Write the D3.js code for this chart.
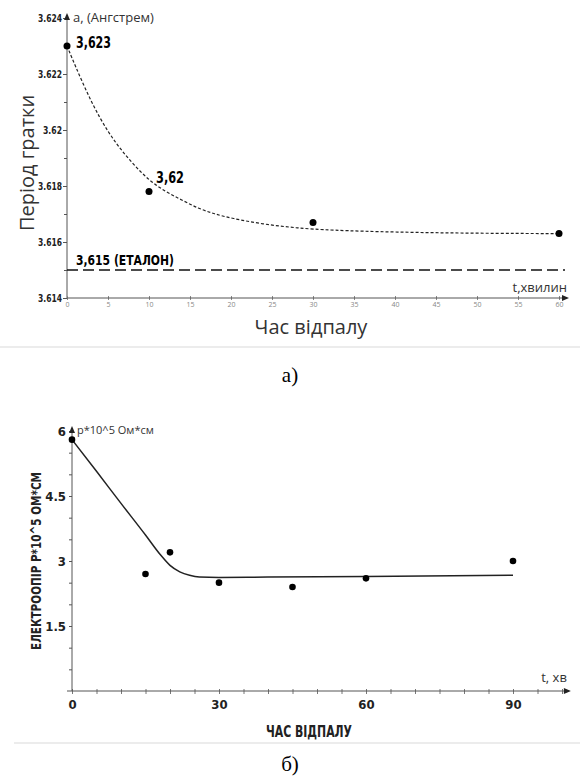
<!DOCTYPE html>
<html>
<head>
<meta charset="utf-8">
<script src="https://cdn.jsdelivr.net/npm/d3@7"></script>
<style>
  body { margin: 0; background: #fff; }
  svg { display: block; }
  .cond { font-family: "Liberation Sans Narrow", "DejaVu Sans Condensed", sans-serif; font-weight: bold; }
  .reg { font-family: "Open Sans", "Noto Sans", sans-serif; }
</style>
</head>
<body>
<div id="viz"></div>
<script>
const width = 580, height = 778;

// chart a) lattice period vs annealing time
const latticeTime = [0, 10, 30, 60];
const latticeValue = [3.623, 3.6178, 3.6167, 3.6163];
const latticeFitTime = [0, 2, 4, 6, 8, 10, 12, 14, 16, 18, 20, 24, 28, 32, 40, 50, 60];
const latticeFitValue = [3.6230, 3.6216, 3.6204, 3.6195, 3.6188, 3.6182, 3.6178, 3.6175, 3.6172, 3.6170, 3.61685, 3.61663, 3.6165, 3.61642, 3.61635, 3.61631, 3.6163];
const latticeRef = 3.615;
const latticeTicksY = [3.614, 3.616, 3.618, 3.62, 3.622, 3.624];
const latticeTickLabelsY = ["3.614", "3.616", "3.618", "3.62", "3.622", "3.624"];
const latticeTicksX = [0, 5, 10, 15, 20, 25, 30, 35, 40, 45, 50, 55, 60];
const latticeNotes = ["3,623", "3,62", "3,615 (ЕТАЛОН)"];

// chart b) resistivity vs annealing time
const resistTime = [0, 15, 20, 30, 45, 60, 90];
const resistValue = [5.8, 2.7, 3.2, 2.5, 2.4, 2.6, 3.0];
const resistFitTime = [0, 5, 10, 15, 18, 20, 22, 24, 26, 30, 40, 60, 90];
const resistFitValue = [5.8, 5.07, 4.33, 3.6, 3.15, 2.9, 2.75, 2.67, 2.63, 2.62, 2.63, 2.64, 2.67];
const resistTicksY = [1.5, 3, 4.5, 6];
const resistTicksX = [0, 30, 60, 90];

const svg = d3.select("#viz").append("svg")
  .attr("width", width)
  .attr("height", height);

const axisColor = "#555";

function arrowUp(x, y) {
  svg.append("path")
    .attr("d", `M${x},${y} l-3,7 l6,0 z`)
    .attr("fill", "#222");
}
function arrowRight(x, y) {
  svg.append("path")
    .attr("d", `M${x},${y} l-7,-3 l0,6 z`)
    .attr("fill", "#222");
}

// ---------- chart a ----------
const xa = d3.scaleLinear().domain([0, 60]).range([67, 559]);
const ya = d3.scaleLinear().domain([3.614, 3.624]).range([298, 18]);

// y axis minor + major
svg.append("g")
  .attr("transform", `translate(${xa(0)},0)`)
  .call(d3.axisLeft(ya).tickValues(d3.range(3.614, 3.6245, 0.001)).tickSize(3).tickFormat(""))
  .call(g => g.select(".domain").remove())
  .selectAll("line").attr("stroke", axisColor);

const gya = svg.append("g")
  .attr("transform", `translate(${xa(0)},0)`)
  .call(d3.axisLeft(ya).tickValues(latticeTicksY).tickSize(4)
    .tickFormat((d, i) => latticeTickLabelsY[i]));
gya.select(".domain").remove();
gya.selectAll("line").attr("stroke", axisColor);
gya.selectAll("text").attr("class", "cond").attr("font-size", 10).attr("fill", "#222").attr("dx", 2)
  .attr("textLength", d => d === 3.62 ? 19 : 24).attr("lengthAdjust", "spacingAndGlyphs");

svg.append("line")
  .attr("x1", xa(0)).attr("x2", xa(0))
  .attr("y1", ya(3.614)).attr("y2", ya(3.624) - 3)
  .attr("stroke", axisColor);
arrowUp(xa(0), ya(3.624) - 5);

// x axis
const gxa = svg.append("g")
  .attr("transform", `translate(0,${ya(3.614)})`)
  .call(d3.axisBottom(xa).tickValues(latticeTicksX).tickSize(2));
gxa.select(".domain").remove();
gxa.selectAll("line").attr("stroke", "#888").attr("y1", -2);
gxa.selectAll("text").attr("class", "reg").attr("font-size", 7).attr("fill", "#888").attr("dy", "0.6em");

svg.append("line")
  .attr("x1", xa(0)).attr("x2", xa(60) + 8)
  .attr("y1", ya(3.614)).attr("y2", ya(3.614))
  .attr("stroke", axisColor);
arrowRight(xa(60) + 10, ya(3.614));

// reference line
svg.append("line")
  .attr("x1", xa(0)).attr("x2", xa(60) + 6)
  .attr("y1", ya(latticeRef)).attr("y2", ya(latticeRef))
  .attr("stroke", "#111").attr("stroke-width", 1.6)
  .attr("stroke-dasharray", "11,5");

// fitted curve
const fitA = latticeFitTime.map((t, i) => [t, latticeFitValue[i]]);
svg.append("path")
  .datum(fitA)
  .attr("d", d3.line().x(d => xa(d[0])).y(d => ya(d[1])).curve(d3.curveBasis))
  .attr("fill", "none")
  .attr("stroke", "#222")
  .attr("stroke-width", 1.2)
  .attr("stroke-dasharray", "3,2");

// points
svg.selectAll(".pa")
  .data(latticeTime.map((t, i) => [t, latticeValue[i]]))
  .enter().append("circle")
  .attr("cx", d => xa(d[0])).attr("cy", d => ya(d[1]))
  .attr("r", 3.5).attr("fill", "#000");

// annotations
svg.append("text").attr("class", "cond").attr("font-size", 15)
  .attr("textLength", 35).attr("lengthAdjust", "spacingAndGlyphs")
  .attr("x", xa(0) + 9).attr("y", ya(latticeValue[0]) + 2).text(latticeNotes[0]);
svg.append("text").attr("class", "cond").attr("font-size", 15)
  .attr("textLength", 28).attr("lengthAdjust", "spacingAndGlyphs")
  .attr("x", xa(10) + 7).attr("y", ya(latticeValue[1]) - 9).text(latticeNotes[1]);
svg.append("text").attr("class", "cond").attr("font-size", 14)
  .attr("textLength", 98).attr("lengthAdjust", "spacingAndGlyphs")
  .attr("x", xa(0) + 9).attr("y", ya(latticeRef) - 5).text(latticeNotes[2]);

svg.append("text").attr("class", "reg").attr("font-size", 13).attr("fill", "#333")
  .attr("x", xa(0) + 6).attr("y", ya(3.624) + 4).text("а, (Ангстрем)");
svg.append("text").attr("class", "reg").attr("font-size", 13).attr("fill", "#333")
  .attr("text-anchor", "end")
  .attr("x", xa(60) + 8).attr("y", ya(3.614) - 6).text("t,хвилин");

svg.append("text").attr("class", "reg").attr("font-size", 20).attr("fill", "#333")
  .attr("text-anchor", "middle")
  .attr("transform", `translate(34,${(ya(3.614) + ya(3.624)) / 2 + 5}) rotate(-90)`)
  .text("Період гратки");
svg.append("text").attr("class", "reg").attr("font-size", 20).attr("fill", "#333")
  .attr("text-anchor", "middle")
  .attr("x", 311).attr("y", 334).text("Час відпалу");

svg.append("line").attr("x1", 0).attr("x2", width).attr("y1", 347).attr("y2", 347)
  .attr("stroke", "#ececec").attr("stroke-width", 2);
svg.append("text").attr("font-family", "Liberation Serif, serif").attr("font-size", 21)
  .attr("text-anchor", "middle").attr("x", 290).attr("y", 382).text("а)");

// ---------- chart b ----------
const xb = d3.scaleLinear().domain([0, 90]).range([72, 513]);
const yb = d3.scaleLinear().domain([0, 6]).range([691, 431]);

const gyb = svg.append("g")
  .attr("transform", `translate(${xb(0)},0)`)
  .call(d3.axisLeft(yb).tickValues(d3.range(0.5, 6.01, 0.5)).tickSize(3)
    .tickFormat(d => resistTicksY.includes(d) ? d : ""));
gyb.select(".domain").remove();
gyb.selectAll("line").attr("stroke", axisColor);
gyb.selectAll("text").attr("class", "cond").attr("font-size", 13).attr("fill", "#222");

const gxb = svg.append("g")
  .attr("transform", `translate(0,${yb(0)})`)
  .call(d3.axisBottom(xb).tickValues(d3.range(0, 101, 5)).tickSize(3)
    .tickFormat(d => resistTicksX.includes(d) ? d : ""));
gxb.select(".domain").remove();
gxb.selectAll("line").attr("stroke", "#777").attr("y1", -2);
gxb.selectAll("text").attr("class", "cond").attr("font-size", 13).attr("fill", "#222").attr("dy", "0.9em");

svg.append("line")
  .attr("x1", xb(0)).attr("x2", xb(0))
  .attr("y1", yb(0)).attr("y2", yb(6) - 3)
  .attr("stroke", axisColor);
arrowUp(xb(0), yb(6) - 5);
svg.append("line")
  .attr("x1", xb(0) - 5).attr("x2", xb(101) + 2)
  .attr("y1", yb(0)).attr("y2", yb(0))
  .attr("stroke", axisColor);
arrowRight(xb(101) + 4, yb(0));

const fitB = resistFitTime.map((t, i) => [t, resistFitValue[i]]);
svg.append("path")
  .datum(fitB)
  .attr("d", d3.line().x(d => xb(d[0])).y(d => yb(d[1])).curve(d3.curveMonotoneX))
  .attr("fill", "none")
  .attr("stroke", "#222")
  .attr("stroke-width", 1.5);

svg.selectAll(".pb")
  .data(resistTime.map((t, i) => [t, resistValue[i]]))
  .enter().append("circle")
  .attr("cx", d => xb(d[0])).attr("cy", d => yb(d[1]))
  .attr("r", 3.3).attr("fill", "#000");

svg.append("text").attr("class", "reg").attr("font-size", 11).attr("fill", "#333")
  .attr("x", xb(0) + 5).attr("y", yb(6) + 3).text("р*10^5 Ом*см");
svg.append("text").attr("class", "reg").attr("font-size", 13).attr("fill", "#333")
  .attr("text-anchor", "end")
  .attr("x", xb(101)).attr("y", yb(0) - 9).text("t, хв");

svg.append("text").attr("class", "cond").attr("font-size", 14).attr("fill", "#222")
  .attr("text-anchor", "middle")
  .attr("textLength", 178).attr("lengthAdjust", "spacingAndGlyphs")
  .attr("transform", `translate(41,${(yb(0) + yb(6)) / 2}) rotate(-90)`)
  .text("ЕЛЕКТРООПІР Р*10^5 ОМ*СМ");
svg.append("text").attr("class", "cond").attr("font-size", 15).attr("fill", "#222")
  .attr("text-anchor", "middle")
  .attr("textLength", 86).attr("lengthAdjust", "spacingAndGlyphs")
  .attr("x", 309).attr("y", 737).text("ЧАС ВІДПАЛУ");

svg.append("line").attr("x1", 14).attr("x2", width).attr("y1", 743).attr("y2", 743)
  .attr("stroke", "#ececec").attr("stroke-width", 2);
svg.append("text").attr("font-family", "Liberation Serif, serif").attr("font-size", 21)
  .attr("text-anchor", "middle").attr("x", 290).attr("y", 771).text("б)");
</script>
</body>
</html>
